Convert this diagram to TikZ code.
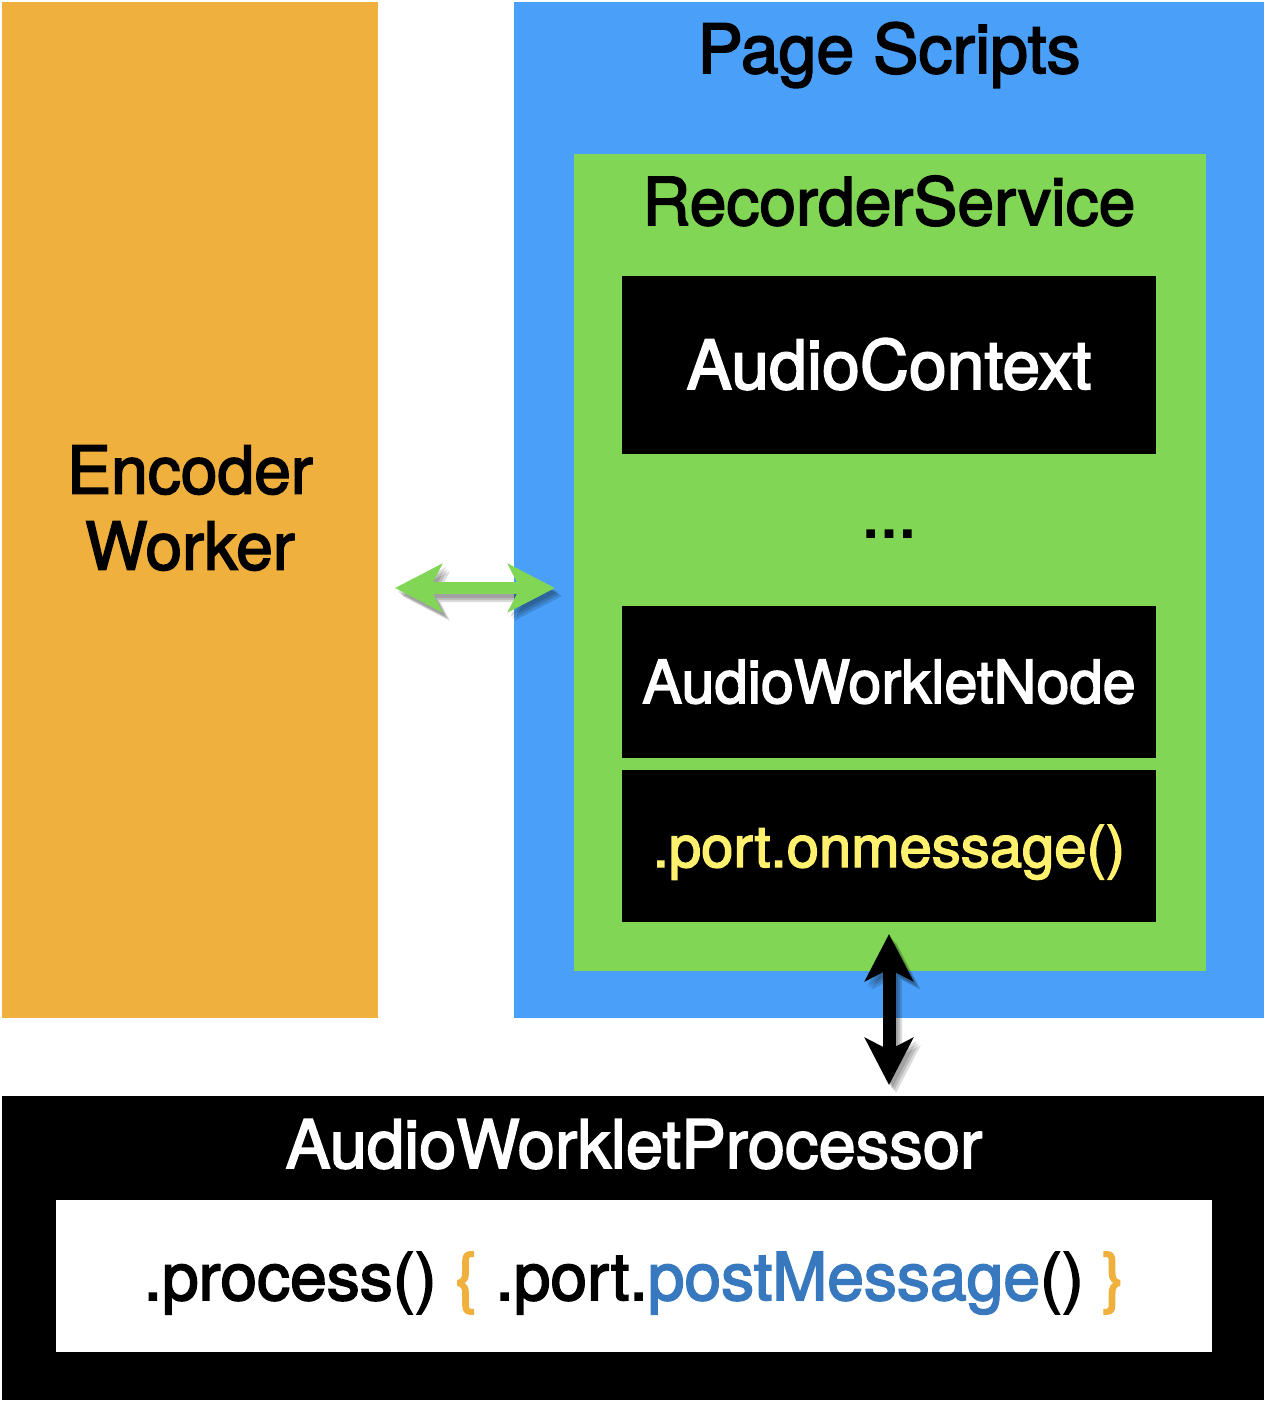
\documentclass[tikz,border=0pt]{standalone}
\usepackage{fontspec}
\setmainfont{TeX Gyre Heros}[FakeBold=2.5]
\usetikzlibrary{arrows.meta,calc}
\definecolor{encorange}{HTML}{F0B03E}
\definecolor{pageblue}{HTML}{4AA0F8}
\definecolor{recgreen}{HTML}{82D655}
\definecolor{msgyellow}{HTML}{FFF06E}
\definecolor{postblue}{HTML}{3778BE}
\tikzset{
  box/.style={rectangle, inner sep=0pt, outer sep=0pt, draw=none},
  lbl/.style={anchor=base, inner sep=0pt, outer sep=0pt, font=\fontsize{66}{77}\selectfont},
  dblarrow/.style={line width=12pt,
    {Stealth[length=47pt,width=48pt,inset=12pt]}-{Stealth[length=47pt,width=48pt,inset=12pt]}},
  shadowlayer/.style={transparency group, opacity=#1},
}
\begin{document}
\begin{tikzpicture}[x=1pt,y=-1pt]
\useasboundingbox (0,0) rectangle (1266,1402);
% containers
\node[box, fill=encorange, minimum width=376pt, minimum height=1016pt] (enc) at (190,510) {};
\node[box, fill=pageblue, minimum width=750pt, minimum height=1016pt] (page) at (889,510) {};
\node[box, fill=recgreen, minimum width=632pt, minimum height=817pt] (rec) at (890,562.5) {};
\node[box, fill=black, minimum width=534pt, minimum height=178pt] (ctx) at (889,365) {};
\node[box, fill=black, minimum width=534pt, minimum height=152pt] (awn) at (889,682) {};
\node[box, fill=black, minimum width=534pt, minimum height=152pt] (onm) at (889,846) {};
\node[box, fill=black, minimum width=1262pt, minimum height=304pt] (awp) at (633,1248) {};
\node[box, fill=white, minimum width=1156pt, minimum height=152pt] (proc) at (634,1276) {};
% texts
\node[lbl, anchor=center, align=center, font=\fontsize{66}{76}\selectfont] (enct) at (190,508) {Encoder\\Worker};
\node[lbl, font=\fontsize{68}{77}\selectfont] (pst) at (889,73) {Page Scripts};
\node[lbl] (rst) at (889,225) {RecorderService};
\node[lbl, text=white, font=\fontsize{68}{77}\selectfont] (ctxt) at (889,389) {AudioContext};
\node[lbl] (dots) at (889,537) {...};
\node[lbl, text=white, font=\fontsize{59.5}{60}\selectfont] (awnt) at (889,703) {AudioWorkletNode};
\node[lbl, text=msgyellow, font=\fontsize{58}{60}\selectfont] (onmt) at (889,867) {.port.onmessage()};
\node[lbl, text=white, font=\fontsize{67}{77}\selectfont] (awpt) at (634,1168) {AudioWorkletProcessor};
\node[lbl] (proct) at (634,1300) {.process() {\color{encorange}\{} .port.{\color{postblue}postMessage}() {\color{encorange}\}}};
% arrow end points
\coordinate (gl) at ($(enc.east)+(17,78)$);
\coordinate (gr) at ($(page.west)+(41,78)$);
\coordinate (bt) at ($(onm.south)+(0,12)$);
\coordinate (bb) at ($(bt |- awp.north)+(0,-11)$);
% soft shadows
\foreach \dx/\dy in {3/4, 5/6, 7/8} {
  \begin{scope}[shadowlayer=0.14]
    \draw[dblarrow, draw=black, fill=black] ($(gl)+(\dx,\dy)$) -- ($(gr)+(\dx,\dy)$);
  \end{scope}
  \begin{scope}[shadowlayer=0.14]
    \draw[dblarrow, draw=black, fill=black] ($(bt)+(\dx,\dy)$) -- ($(bb)+(\dx,\dy)$);
  \end{scope}
}
% arrows
\draw[dblarrow, draw=recgreen, fill=recgreen] (gl) -- (gr);
\draw[dblarrow, line width=13pt, draw=black, fill=black] (bt) -- (bb);
\end{tikzpicture}
\end{document}
